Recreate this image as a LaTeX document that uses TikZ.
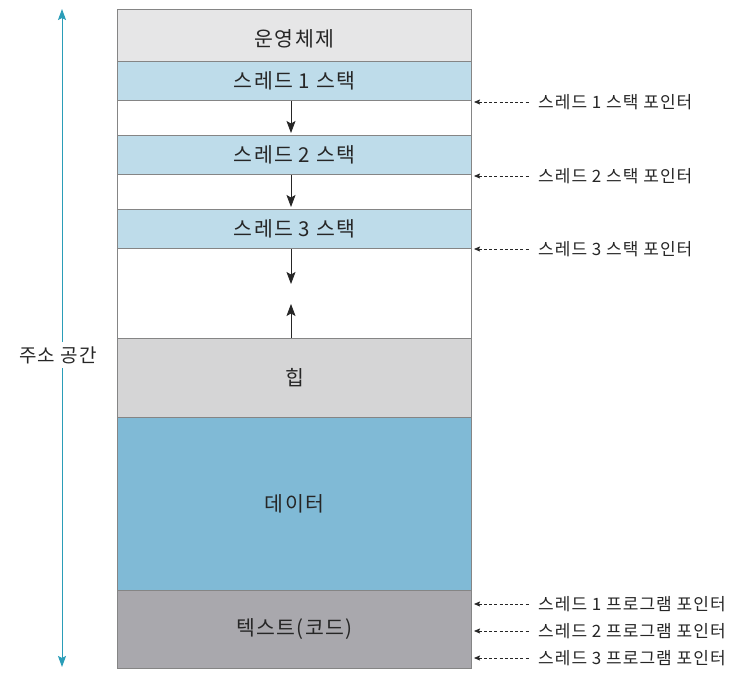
\documentclass[tikz,border=0pt]{standalone}
\usepackage{fontspec}
\setmainfont{Noto Sans CJK KR}
\newfontfamily\spacedfont[LetterSpace=6]{Noto Sans CJK KR}
\usetikzlibrary{arrows.meta}
\definecolor{osgray}{HTML}{E6E6E7}
\definecolor{stackblue}{HTML}{BEDCEA}
\definecolor{heapgray}{HTML}{D5D5D6}
\definecolor{datablue}{HTML}{80BAD6}
\definecolor{textgray}{HTML}{A9A8AD}
\definecolor{edgegray}{HTML}{858585}
\definecolor{axisteal}{HTML}{2A9DB8}
\definecolor{inkgray}{HTML}{262626}
\tikzset{
  segbox/.style={draw=edgegray, line width=0.9pt, minimum width=354pt, inner sep=0pt, anchor=north west, font=\spacedfont\fontsize{20.5}{20.5}\selectfont, text=inkgray},
  growarrow/.style={-{Stealth[length=12pt,width=9pt,inset=2.5pt]}, line width=0.8pt, black!85},
  ptrarrow/.style={{Stealth[length=6pt,width=5pt,inset=1pt]}-, dash pattern=on 3pt off 2.2pt, line width=0.7pt, black!85},
  plabel/.style={anchor=west, font=\spacedfont\fontsize{17}{17}\selectfont, text=inkgray, inner sep=0pt},
}
\begin{document}
\begin{tikzpicture}[x=1pt,y=-1pt]
\useasboundingbox (0,0) rectangle (734,676);
\node[segbox, fill=osgray, minimum height=52pt] (os) at (117,9) {};
\node[inner sep=0pt, font=\spacedfont\fontsize{20.5}{20.5}\selectfont, text=inkgray] (oslabel) at ([yshift=-3pt]os.center) {운영체제};
\node[segbox, fill=stackblue, minimum height=39pt] (s1) at (117,61) {스레드 1 스택};
\node[segbox, fill=white, minimum height=35pt] (w1) at (117,100) {};
\node[segbox, fill=stackblue, minimum height=39pt] (s2) at (117,135) {스레드 2 스택};
\node[segbox, fill=white, minimum height=35pt] (w2) at (117,174) {};
\node[segbox, fill=stackblue, minimum height=39pt] (s3) at (117,209) {스레드 3 스택};
\node[segbox, fill=white, minimum height=90pt] (w3) at (117,248) {};
\node[segbox, fill=heapgray, minimum height=79pt] (heap) at (117,338) {힙};
\node[segbox, fill=datablue, minimum height=173pt] (data) at (117,417) {데이터};
\node[segbox, fill=textgray, minimum height=78pt] (text) at (117,590) {텍스트(코드)};
% growth arrows
\coordinate (g1) at (291,133);
\coordinate (g2) at (291,207);
\coordinate (g3) at (291,284);
\coordinate (g4) at (291,304);
\draw[growarrow] (s1.south -| g1) -- (g1);
\draw[growarrow] (s2.south -| g2) -- (g2);
\draw[growarrow] (s3.south -| g3) -- (g3);
\draw[growarrow] (heap.north -| g4) -- (g4);
% stack pointers
\node[plabel] (p1) at (538,102) {스레드 1 스택 포인터};
\node[plabel] (p2) at (538,176) {스레드 2 스택 포인터};
\node[plabel] (p3) at (538,249) {스레드 3 스택 포인터};
\coordinate (a1) at (474,102);
\coordinate (a2) at (474,176);
\coordinate (a3) at (474,249);
\draw[ptrarrow] (a1) -- ([xshift=-8pt]p1.west);
\draw[ptrarrow] (a2) -- ([xshift=-8pt]p2.west);
\draw[ptrarrow] (a3) -- ([xshift=-8pt]p3.west);
% program pointers
\node[plabel] (q1) at (538,604) {스레드 1 프로그램 포인터};
\node[plabel] (q2) at (538,631) {스레드 2 프로그램 포인터};
\node[plabel] (q3) at (538,658) {스레드 3 프로그램 포인터};
\coordinate (b1) at (474,604);
\coordinate (b2) at (474,631);
\coordinate (b3) at (474,658);
\draw[ptrarrow] (b1) -- ([xshift=-8pt]q1.west);
\draw[ptrarrow] (b2) -- ([xshift=-8pt]q2.west);
\draw[ptrarrow] (b3) -- ([xshift=-8pt]q3.west);
% address space arrow
\node[font=\spacedfont\fontsize{19}{19}\selectfont, text=inkgray, inner sep=0pt] (addr) at (58,355) {주소 공간};
\coordinate (top) at (62,9);
\coordinate (bot) at (62,667);
\draw[axisteal, line width=1pt, -{Stealth[length=11pt,width=8pt,inset=2pt]}] ([yshift=4pt]addr.north -| top) -- (top);
\draw[axisteal, line width=1pt, -{Stealth[length=11pt,width=8pt,inset=2pt]}] ([yshift=-4pt]addr.south -| bot) -- (bot);
\end{tikzpicture}
\end{document}
